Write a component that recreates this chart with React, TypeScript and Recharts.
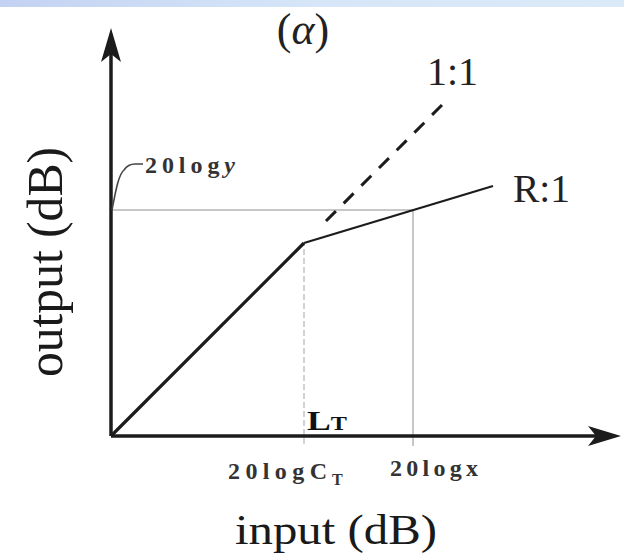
import React from "react";
import { ComposedChart, Line, XAxis, YAxis, ReferenceLine, ReferenceDot } from "recharts";

// ---- data (arbitrary dB units) ----
const curveInput = [0, 38.6, 76.4];      // origin, threshold LT, end of R:1 branch
const curveOutput = [0, 38.6, 50];
const unityInput = [43, 66.5];           // dashed 1:1 continuation above threshold
const markerInput = 60.4;                // 20logx
const markerOutput = 45.2;               // 20logy
const axisEnd = { x: 102, y: 81.6 };
const labels = {
  title: "(α)",
  unity: "1:1",
  ratio: "R:1",
  yMark: "20logy",
  thresholdTick: "20logC",
  xMark: "20logx",
  xTitle: "input (dB)",
  yTitle: "output (dB)",
};

const rampData = curveInput.slice(0, 2).map((x, i) => ({ x, y: curveOutput[i] }));
const compData = curveInput.slice(1).map((x, i) => ({ x, y: curveOutput[i + 1] }));
const unityData = unityInput.map((x) => ({ x, y: x }));

const SERIF = "Liberation Serif";
const INK = "#1c1c1c";
const GUIDE = "#b4b4b4";
const TICK_INK = "#333";

const textAt = (dx: number, dy: number, render: (x: number, y: number) => React.ReactNode) =>
  (p: any) => <g>{render(p.cx + dx, p.cy + dy)}</g>;

export default function App() {
  return (
    <div style={{ position: "absolute", left: 0, top: 0, width: 624, height: 560, background: "#fff", fontFamily: SERIF }}>
      <div
        style={{
          position: "absolute", left: 0, top: 0, width: 624, height: 7,
          background: "linear-gradient(to right, #c3d2f2, #d6e6f8 50%, #dbeaf8)",
        }}
      />
      <ComposedChart width={624} height={560} margin={{ top: 0, right: 0, bottom: 0, left: 0 }} data={rampData}>
        <XAxis type="number" dataKey="x" domain={[-22.2, 102.6]} hide allowDataOverflow />
        <YAxis type="number" domain={[-24.8, 87.2]} hide allowDataOverflow />

        {/* guides */}
        <ReferenceLine segment={[{ x: 0, y: markerOutput }, { x: markerInput, y: markerOutput }]} stroke={GUIDE} strokeWidth={1.5} />
        <ReferenceLine segment={[{ x: markerInput, y: -2 }, { x: markerInput, y: markerOutput }]} stroke={GUIDE} strokeWidth={1.5} />
        <ReferenceLine segment={[{ x: curveInput[1], y: -1.6 }, { x: curveInput[1], y: curveOutput[1] }]} stroke="#c4c4c4" strokeWidth={1.5} strokeDasharray="6 3" />

        {/* axes */}
        <ReferenceLine segment={[{ x: 0, y: 0 }, { x: 0, y: axisEnd.y - 4 }]} stroke={INK} strokeWidth={3.5} />
        <ReferenceLine segment={[{ x: 0, y: 0 }, { x: axisEnd.x - 4, y: 0 }]} stroke={INK} strokeWidth={3.5} />
        <ReferenceDot x={0} y={axisEnd.y} r={0} ifOverflow="visible"
          shape={(p: any) => <path d={`M${p.cx},${p.cy} L${p.cx + 10},${p.cy + 34} L${p.cx},${p.cy + 26} L${p.cx - 10},${p.cy + 34} Z`} fill={INK} />} />
        <ReferenceDot x={axisEnd.x} y={0} r={0} ifOverflow="visible"
          shape={(p: any) => <path d={`M${p.cx},${p.cy} L${p.cx - 33},${p.cy - 10} L${p.cx - 25},${p.cy} L${p.cx - 33},${p.cy + 10} Z`} fill={INK} />} />

        {/* transfer curve */}
        <Line data={rampData} dataKey="y" stroke={INK} strokeWidth={3.2} dot={false} activeDot={false} isAnimationActive={false} />
        <Line data={compData} dataKey="y" stroke={INK} strokeWidth={2.3} dot={false} activeDot={false} isAnimationActive={false} />
        <Line data={unityData} dataKey="y" stroke={INK} strokeWidth={3} strokeDasharray="14 11" dot={false} activeDot={false} isAnimationActive={false} />

        {/* leader for 20logy */}
        <ReferenceDot x={0} y={markerOutput} r={0} ifOverflow="visible"
          shape={(p: any) => (
            <path d={`M${p.cx + 1},${p.cy} C${p.cx + 4},${p.cy - 15} ${p.cx + 7},${p.cy - 35} ${p.cx + 13},${p.cy - 40} Q${p.cx + 17},${p.cy - 46} ${p.cx + 24},${p.cy - 46} L${p.cx + 32},${p.cy - 46}`}
              fill="none" stroke="#444" strokeWidth={1.6} />
          )} />

        {/* texts */}
        <ReferenceDot x={curveInput[1]} y={axisEnd.y} r={0} ifOverflow="visible"
          shape={textAt(-1, 16, (x, y) => (
            <text x={x} y={y} textAnchor="middle" fontFamily={SERIF} fontSize={44} fill="#222">
              (<tspan fontStyle="italic">α</tspan>)
            </text>
          ))} />
        <ReferenceDot x={unityInput[1]} y={unityInput[1]} r={0} ifOverflow="visible"
          shape={textAt(-16.5, -18.5, (x, y) => (
            <text x={x} y={y} fontFamily={SERIF} fontSize={40} fill="#222" textLength={51} lengthAdjust="spacingAndGlyphs">{labels.unity}</text>
          ))} />
        <ReferenceDot x={curveInput[2]} y={curveOutput[2]} r={0} ifOverflow="visible"
          shape={textAt(20, 16, (x, y) => (
            <text x={x} y={y} fontFamily={SERIF} fontSize={40} fill="#222" textLength={57} lengthAdjust="spacingAndGlyphs">{labels.ratio}</text>
          ))} />
        <ReferenceDot x={0} y={markerOutput} r={0} ifOverflow="visible"
          shape={textAt(34, -37, (x, y) => (
            <text x={x} y={y} fontFamily={SERIF} fontSize={24} fontWeight="bold" fill={TICK_INK} textLength={90} lengthAdjust="spacing">
              20log<tspan fontStyle="italic">y</tspan>
            </text>
          ))} />
        <ReferenceDot x={curveInput[1]} y={0} r={0} ifOverflow="visible"
          shape={textAt(3, -6, (x, y) => (
            <text x={x} y={y} fontFamily={SERIF} fontWeight="bold" fill="#111" textLength={40} lengthAdjust="spacingAndGlyphs">
              <tspan fontSize={28}>L</tspan><tspan fontSize={19}>T</tspan>
            </text>
          ))} />
        <ReferenceDot x={curveInput[1]} y={0} r={0} ifOverflow="visible"
          shape={textAt(-76, 43, (x, y) => (
            <g>
              <text x={x} y={y} fontFamily={SERIF} fontSize={24} fontWeight="bold" fill={TICK_INK} textLength={99} lengthAdjust="spacing">{labels.thresholdTick}</text>
              <text x={x + 104} y={y + 6} fontFamily={SERIF} fontSize={16} fontWeight="bold" fill={TICK_INK}>T</text>
            </g>
          ))} />
        <ReferenceDot x={markerInput} y={0} r={0} ifOverflow="visible"
          shape={textAt(-23, 40, (x, y) => (
            <text x={x} y={y} fontFamily={SERIF} fontSize={24} fontWeight="bold" fill={TICK_INK} textLength={88} lengthAdjust="spacing">{labels.xMark}</text>
          ))} />
        <ReferenceDot x={0} y={0} r={0} ifOverflow="visible"
          shape={textAt(225, 108, (x, y) => (
            <text x={x} y={y} textAnchor="middle" fontFamily={SERIF} fontSize={42} fill="#1a1a1a" textLength={202} lengthAdjust="spacingAndGlyphs">{labels.xTitle}</text>
          ))} />
        <ReferenceDot x={0} y={0} r={0} ifOverflow="visible"
          shape={textAt(-49, -174, (x, y) => (
            <text x={x} y={y} transform={`rotate(-90 ${x} ${y})`} textAnchor="middle" fontFamily={SERIF} fontSize={50} fill="#1a1a1a" textLength={230} lengthAdjust="spacingAndGlyphs">{labels.yTitle}</text>
          ))} />
      </ComposedChart>
    </div>
  );
}
